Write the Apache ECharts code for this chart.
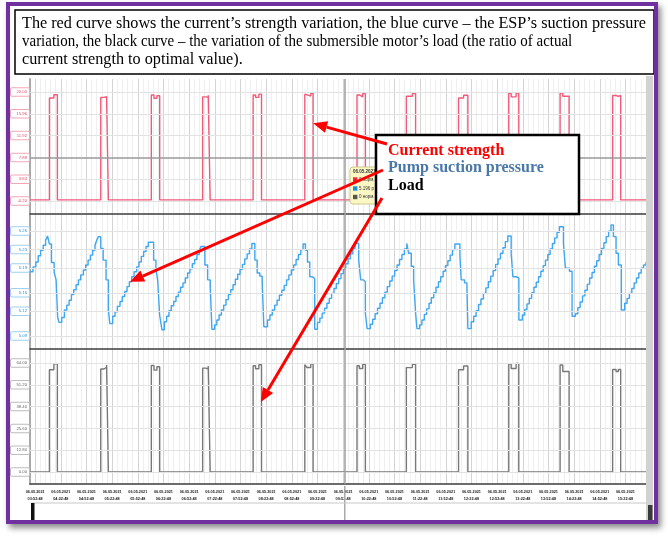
<!DOCTYPE html>
<html><head><meta charset="utf-8">
<script src="https://cdn.jsdelivr.net/npm/echarts@6/dist/echarts.min.js"></script>
<style>html,body{margin:0;padding:0;background:#fff}#c{width:668px;height:537px}</style>
</head><body><div id="c"></div>
<script>
// ---- data (time in minutes after 03:22:48 on 06.05.2021) ----
const dateLabel = '06.05.2021';
const startMinuteOfDay = 202; // 03:22
const labelSeconds = '48';
const xMin = 24, xMax = 744, xStep = 6, xLabelEvery = 30;

const currentTicks = [-0.2, 3.84, 7.88, 11.92, 15.96, 20.0];
const currentTickLabels = ['-0.20', '3.84', '7.88', '11.92', '15.96', '20.00'];
const pressureTicks = [5.09, 5.125, 5.16, 5.195, 5.23, 5.265];
const pressureTickLabels = ['5.09', '5.12', '5.16', '5.19', '5.23', '5.26'];
const loadTicks = [0, 12.8, 25.6, 38.4, 51.2, 64];
const loadTickLabels = ['0.00', '12.80', '25.60', '38.40', '51.20', '64.00'];

const currentRange = [-2.61, 22.41];
const pressureRange = [5.0689, 5.2877];
const loadRange = [-7.05, 72.22];

const currentData = [
 [24,0],
 [46.7,18.9],[51.9,19.5],[56.0,0],
 [106.7,19.0],[110.5,19.15],[113.5,19.5],[115.6,0],
 [165.8,19.45],[168.9,18.85],[172.3,19.3],[175.6,0],
 [225.8,19.1],[229.5,19.0],[232.3,19.4],[234.6,0],
 [284.8,19.45],[287.6,19.0],[291.5,19.6],[294.6,0],
 [345.2,19.6],[347.5,19.25],[352.2,19.75],[354.9,0],
 [406.2,19.45],[409.0,19.1],[412.9,19.7],[416.0,0],
 [463.9,19.2],[471.0,19.7],[474.7,0],
 [524.9,18.9],[530.8,19.4],[535.8,0],
 [583.6,19.75],[586.4,19.1],[592.2,19.8],[595.3,0],
 [643.6,19.8],[646.7,19.2],[654.1,0],
 [705.0,19.35],[709.0,19.2],[711.7,19.35],[714.4,0],
 [744,0]
];

const pressureData = [
 [24,5.194],[27.5,5.202],[30.8,5.210],[33.6,5.220],[36.4,5.229],[39.4,5.237],[42.2,5.245],[44.5,5.252],
 [46.7,5.239],[49.1,5.209],[52.2,5.193],[54.5,5.181],[56.3,5.121],[57.8,5.112],[61.1,5.120],
 [64.2,5.132],[67.0,5.140],[69.7,5.148],[72.4,5.157],[75.1,5.165],[77.9,5.173],[80.6,5.181],[83.3,5.189],[86.4,5.197],[89.1,5.205],[91.9,5.213],[94.6,5.221],[97.3,5.229],[100.0,5.237],[102.0,5.245],[103.9,5.251],
 [106.7,5.232],[109.5,5.213],[112.9,5.181],[115.6,5.132],[117.3,5.110],[120.6,5.122],
 [123.4,5.129],[126.1,5.138],[129.2,5.146],[131.9,5.154],[134.7,5.162],[137.4,5.170],[140.1,5.178],[142.8,5.186],[145.6,5.194],[148.7,5.202],[151.4,5.210],[154.1,5.219],[156.8,5.227],[159.6,5.235],[162.3,5.242],
 [168.5,5.213],[171.2,5.197],[173.2,5.181],[175.5,5.124],[177.0,5.111],[178.2,5.100],[181.0,5.113],
 [183.7,5.122],[186.4,5.131],[189.1,5.139],[191.9,5.146],[194.6,5.154],[197.3,5.161],[200.0,5.169],[202.8,5.176],[205.5,5.184],[208.2,5.192],[210.9,5.199],[213.7,5.207],[216.4,5.214],[219.1,5.222],[221.8,5.229],[223.8,5.235],
 [228.4,5.205],[231.6,5.181],[234.7,5.170],[236.6,5.101],[239.8,5.108],[242.4,5.116],
 [245.0,5.124],[247.7,5.132],[250.4,5.140],[253.1,5.149],[255.9,5.157],[258.6,5.165],[261.3,5.173],[264.0,5.182],[266.8,5.190],[269.5,5.198],[272.3,5.206],[275.0,5.215],[277.8,5.223],[280.5,5.231],[283.3,5.240],
 [286.8,5.213],[289.5,5.192],[292.6,5.187],[295.4,5.178],[297.3,5.105],[301.6,5.116],
 [304.4,5.124],[307.2,5.132],[310.0,5.140],[312.8,5.148],[315.5,5.156],[318.3,5.164],[321.1,5.172],[323.9,5.181],[326.6,5.189],[329.4,5.197],[332.2,5.205],[335.0,5.214],[337.8,5.222],[340.5,5.230],[343.2,5.239],
 [345.9,5.229],[348.3,5.210],[351.0,5.186],[354.1,5.183],[356.8,5.101],[360.0,5.112],
 [362.8,5.119],[365.5,5.127],[368.3,5.135],[371.0,5.143],[373.8,5.151],[376.5,5.159],[379.3,5.167],[382.0,5.175],[384.8,5.183],[387.5,5.191],[390.3,5.199],[393.0,5.207],[395.8,5.215],[398.5,5.223],[401.3,5.232],[404.0,5.240],
 [408.2,5.213],[410.5,5.181],[413.5,5.178],[416.0,5.127],[418.0,5.102],[421.8,5.109],
 [424.5,5.117],[427.4,5.126],[430.2,5.135],[433.1,5.143],[435.9,5.152],[438.8,5.161],[441.6,5.170],[444.5,5.179],[447.3,5.187],[450.2,5.196],[453.0,5.205],[455.9,5.214],[458.7,5.222],[461.6,5.231],[464.4,5.240],
 [466.6,5.224],[469.7,5.203],[472.4,5.181],[474.7,5.127],[476.3,5.102],[479.4,5.108],
 [482.1,5.116],[484.9,5.125],[487.6,5.134],[490.4,5.143],[493.1,5.152],[495.9,5.160],[498.6,5.169],[501.4,5.178],[504.1,5.186],[506.9,5.195],[509.6,5.204],[512.4,5.212],[515.1,5.221],[517.9,5.230],[520.6,5.239],
 [526.5,5.220],[528.0,5.181],[531.9,5.176],[534.7,5.170],[535.8,5.102],[539.7,5.113],
 [542.6,5.122],[545.4,5.131],[548.3,5.141],[551.1,5.150],[554.0,5.159],[556.8,5.168],[559.7,5.178],[562.5,5.187],[565.4,5.196],[568.2,5.206],[571.1,5.215],[573.9,5.224],[576.8,5.233],[579.6,5.243],[582.5,5.252],
 [586.4,5.224],[588.4,5.186],[592.2,5.184],[595.4,5.116],[599.5,5.124],
 [602.2,5.133],[604.9,5.142],[607.6,5.151],[610.3,5.160],[613.0,5.169],[615.7,5.177],[618.4,5.186],[621.1,5.195],[623.8,5.204],[626.5,5.213],[629.2,5.222],[631.9,5.231],[634.6,5.240],[637.3,5.249],[640.0,5.258],[642.8,5.267],
 [647.5,5.240],[649.8,5.200],[654.5,5.195],[657.6,5.122],[661.5,5.126],
 [664.3,5.136],[667.0,5.145],[669.8,5.155],[672.6,5.164],[675.4,5.174],[678.1,5.184],[680.9,5.193],[683.7,5.203],[686.4,5.212],[689.2,5.222],[692.0,5.232],[694.8,5.241],[697.5,5.251],[700.3,5.260],[703.1,5.270],
 [705.9,5.251],[709.0,5.224],[711.7,5.205],[715.2,5.132],[719.1,5.143],
 [721.9,5.151],[724.6,5.159],[727.4,5.167],[730.1,5.176],[732.9,5.184],[735.6,5.192],[738.4,5.200],[741.1,5.205],[744,5.210]
];

const loadData = [
 [24,0],
 [46.7,60.0],[51.9,63.6],[56.0,0],
 [106.7,60.5],[110.5,61.5],[113.5,62.8],[115.6,0],
 [165.8,62.5],[168.9,59.8],[172.3,61.8],[175.6,0],
 [225.8,61.0],[229.5,60.5],[232.3,62.2],[234.6,0],
 [284.8,62.4],[287.6,60.6],[291.5,63.0],[294.6,0],
 [345.2,63.0],[347.5,61.4],[352.2,63.6],[354.9,0],
 [406.2,62.4],[409.0,60.8],[412.9,63.3],[416.0,0],
 [463.9,61.3],[471.0,63.3],[474.7,0],
 [524.9,60.0],[530.8,62.2],[535.8,0],
 [583.6,63.6],[586.4,60.8],[592.2,63.8],[595.3,0],
 [643.6,62.8],[646.7,59.0],[654.1,0],
 [705.0,60.2],[709.0,59.0],[711.7,60.2],[714.4,0],
 [744,0]
];

const crosshairT = 391.9;
const crosshairCurrent = 7.88;

const captionLines = [
 'The red curve shows the current\u2019s strength variation, the blue curve \u2013 the ESP\u2019s suction pressure',
 'variation, the black curve \u2013 the variation of the submersible motor\u2019s load (the ratio of actual',
 'current strength to optimal value).'
];
const captionScaleX = [1, 0.925, 1];
const legendItems = ['Current strength', 'Pump suction pressure', 'Load'];
const tooltipLines = ['06.05.2021', '0 норм.', '5.196 р', '0 норм.'];
// arrow targets in data coordinates of each panel
const arrowTargets = [[354.9, 14.2], [140.9, 5.178], [293.8, 41.1]];

// ---- chart ----
const chart = echarts.init(document.getElementById('c'), null, {renderer: 'canvas'});

function timeLabel(v) {
  const r = Math.round(v);
  if ((r - xLabelEvery) % xLabelEvery !== 0) return '';
  const m = startMinuteOfDay + r;
  const hh = String(Math.floor(m / 60)).padStart(2, '0');
  const mm = String(m % 60).padStart(2, '0');
  return dateLabel + '\n' + hh + ':' + mm + ':' + labelSeconds;
}

const splitColors = ['#efefef', '#d4d4d4', '#efefef', '#efefef', '#efefef'];
function makeX(i, showLabels) {
  return {
    type: 'value', gridIndex: i, min: xMin, max: xMax, interval: xStep,
    axisLine: {show: true, onZero: false, lineStyle: {color: '#3c3c3c', width: 1.5}},
    axisTick: {show: false},
    axisLabel: {show: showLabels, formatter: timeLabel, fontSize: 3.8, lineHeight: 7.5,
      fontWeight: 'bold', color: '#222', margin: 4, fontFamily: 'Liberation Sans'},
    splitLine: {show: true, lineStyle: {color: splitColors, width: 1}}
  };
}
function makeY(i, range) {
  return {
    type: 'value', gridIndex: i, min: range[0], max: range[1],
    axisLine: {show: true, lineStyle: {color: '#a9a9a9', width: 2}},
    axisTick: {show: false}, axisLabel: {show: false}, splitLine: {show: false}
  };
}
function gridLines(i, ticks, labels, textColor, boxColor, darkValue) {
  const data = ticks.map((v, k) => ({
    yAxis: v,
    lineStyle: {color: v === darkValue ? '#9a9a9a' : '#e2e2e2', width: v === darkValue ? 1.5 : 1, type: 'solid'},
    label: {formatter: labels[k]}
  }));
  data.push({xAxis: crosshairT, lineStyle: {color: '#9d9d9d', width: 1.5, type: 'solid'}, label: {show: false}});
  return {
    type: 'line', xAxisIndex: i, yAxisIndex: i, data: [], z: 1, silent: true,
    markLine: {
      silent: true, symbol: ['none', 'none'], animation: false,
      label: {show: true, position: 'start', distance: 1, fontSize: 4.2, color: textColor,
        fontFamily: 'Liberation Sans', backgroundColor: '#fff', borderColor: boxColor,
        borderWidth: 1, borderRadius: 1, padding: [2, 2, 1.5, 2], width: 14, align: 'right'},
      data: data
    }
  };
}
function dataSeries(i, data, color) {
  return {
    type: 'line', xAxisIndex: i, yAxisIndex: i, data: data, step: 'end',
    symbol: 'none', z: 3, silent: true, animation: false,
    lineStyle: {color: color, width: 1.4}
  };
}

const option = {
  backgroundColor: '#fff',
  animation: false,
  grid: [
    {left: 30, right: 22, top: 79, height: 135},
    {left: 30, right: 22, top: 214, height: 135},
    {left: 30, right: 22, top: 349, height: 135}
  ],
  xAxis: [makeX(0, false), makeX(1, false), makeX(2, true)],
  yAxis: [makeY(0, currentRange), makeY(1, pressureRange), makeY(2, loadRange)],
  series: [
    gridLines(0, currentTicks, currentTickLabels, '#e0506e', '#f3a6b6', crosshairCurrent),
    gridLines(1, pressureTicks, pressureTickLabels, '#2f8fd6', '#9fd0f2', null),
    gridLines(2, loadTicks, loadTickLabels, '#666', '#bdbdbd', null),
    dataSeries(0, currentData, '#f25a7a'),
    dataSeries(1, pressureData, '#3ea6f2'),
    dataSeries(2, loadData, '#787878')
  ]
};
chart.setOption(option);

// ---- annotations ----
function arrow(start, tip) {
  const dx = tip[0] - start[0], dy = tip[1] - start[1];
  const len = Math.sqrt(dx * dx + dy * dy);
  const ux = dx / len, uy = dy / len;
  const hl = 14, hw = 6;
  const bx = tip[0] - ux * hl, by = tip[1] - uy * hl;
  const nx = -uy * hw, ny = ux * hw;
  return [
    {type: 'line', z: 40, shape: {x1: start[0], y1: start[1], x2: bx, y2: by},
      style: {stroke: '#ff0000', lineWidth: 3}},
    {type: 'polygon', z: 40, shape: {points: [[tip[0], tip[1]], [bx + nx, by + ny], [bx - nx, by - ny]]},
      style: {fill: '#ff0000'}}
  ];
}
const arrowStarts = [[387, 144], [383, 170], [382, 198]];
const tips = arrowTargets.map((p, i) => chart.convertToPixel({gridIndex: i}, p));
const crossX = chart.convertToPixel({gridIndex: 2}, [crosshairT, 0])[0];

const serif = 'Liberation Serif';
const g = [];
// frame background with shadow
g.push({type: 'rect', z: -10, shape: {x: 6, y: 2, width: 652, height: 522},
  style: {fill: '#fff', shadowBlur: 6, shadowColor: 'rgba(0,0,0,0.45)', shadowOffsetX: 3, shadowOffsetY: 4}});
// caption box
g.push({type: 'rect', z: 30, shape: {x: 15, y: 10, width: 639, height: 64},
  style: {fill: '#fff', stroke: '#000', lineWidth: 1.5}});
captionLines.forEach((t, i) => g.push({type: 'text', z: 31, x: 22, y: 24 + i * 18, scaleX: captionScaleX[i],
  style: {text: t, fill: '#000', font: '16.2px "' + serif + '"', textVerticalAlign: 'middle'}}));
// crosshair extension and bottom bar
g.push({type: 'line', z: 5, shape: {x1: crossX, y1: 486, x2: crossX, y2: 520}, style: {stroke: '#aaa', lineWidth: 1.5}});
g.push({type: 'line', z: 5, shape: {x1: 31, y1: 503, x2: 646, y2: 503}, style: {stroke: '#c8c8c8', lineWidth: 1}});
g.push({type: 'rect', z: 6, shape: {x: 31, y: 503, width: 3.5, height: 18}, style: {fill: '#111'}});
// scrollbar
g.push({type: 'rect', z: 20, shape: {x: 646, y: 76, width: 7, height: 446}, style: {fill: '#d2d2d2'}});
g.push({type: 'rect', z: 21, shape: {x: 648, y: 505, width: 4.5, height: 15}, style: {fill: '#3a3a3a'}});
// tooltip remnant
g.push({type: 'rect', z: 32, shape: {x: 350, y: 167, width: 32, height: 37, r: 3},
  style: {fill: '#fbf8c6', stroke: '#cfc78a', lineWidth: 1}});
g.push({type: 'text', z: 33, x: 353, y: 172, style: {text: tooltipLines[0], fill: '#333', font: 'bold 4.5px "Liberation Sans"', textVerticalAlign: 'middle'}});
const sq = ['#e8283c', '#1a8fe0', '#555'];
[179.5, 188.5, 197].forEach((yy, i) => {
  g.push({type: 'rect', z: 33, shape: {x: 353, y: yy - 2.2, width: 4.4, height: 4.4}, style: {fill: sq[i]}});
  g.push({type: 'text', z: 33, x: 359, y: yy, style: {text: tooltipLines[i + 1], fill: '#333', font: '4.5px "Liberation Sans"', textVerticalAlign: 'middle'}});
});
// legend box
g.push({type: 'rect', z: 35, shape: {x: 376, y: 135, width: 203, height: 79},
  style: {fill: '#fff', stroke: '#000', lineWidth: 2.5}});
const legendColors = ['#ff0000', '#4a78a6', '#000'];
legendItems.forEach((t, i) => g.push({type: 'text', z: 36, x: 388, y: 151 + i * 17.3,
  style: {text: t, fill: legendColors[i], font: 'bold 16px "' + serif + '"', textVerticalAlign: 'middle'}}));
// arrows
tips.forEach((tp, i) => arrow(arrowStarts[i], tp).forEach(e => g.push(e)));
// purple frame
g.push({type: 'rect', z: 50, shape: {x: 8, y: 4, width: 648, height: 518},
  style: {fill: 'none', stroke: '#7030a0', lineWidth: 4}});

chart.setOption({graphic: {elements: g}});
</script></body></html>
